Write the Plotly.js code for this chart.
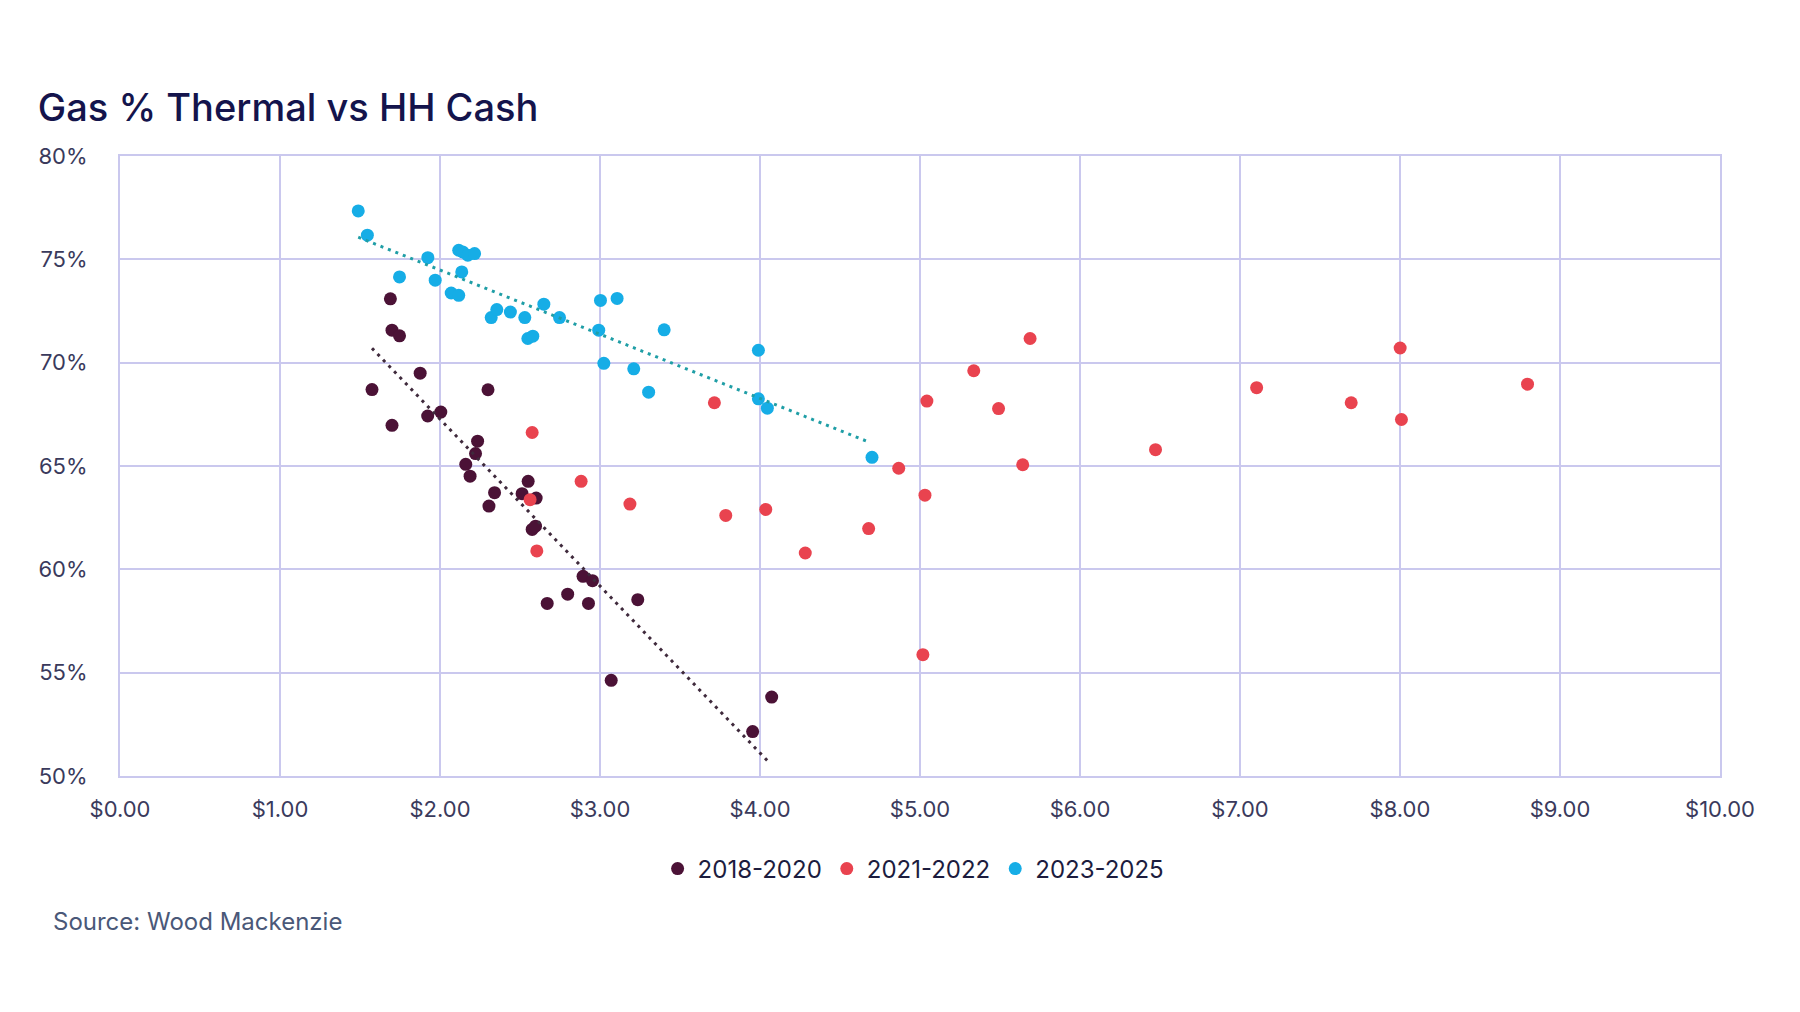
<!DOCTYPE html>
<html>
<head>
<meta charset="utf-8">
<script src="https://cdn.plot.ly/plotly-3.0.1.min.js"></script>
<style>html,body{margin:0;padding:0;background:#fff;}#chart{width:1800px;height:1012px;}</style>
</head>
<body>
<div id="chart"></div>
<script>
// 2018-2020
const priceA = [1.69, 1.70, 1.747, 1.575, 1.876, 1.70, 1.923, 2.005, 2.30, 2.235, 2.222, 2.161, 2.188, 2.551, 2.341, 2.513, 2.601, 2.306, 2.576, 2.597, 2.894, 2.953, 2.798, 2.670, 2.928, 3.236, 3.070, 4.073, 3.954];
const shareA = [73.09, 71.57, 71.30, 68.70, 69.49, 66.97, 67.42, 67.61, 68.69, 66.20, 65.60, 65.08, 64.51, 64.26, 63.71, 63.66, 63.45, 63.06, 61.93, 62.09, 59.66, 59.45, 58.80, 58.35, 58.35, 58.53, 54.63, 53.82, 52.15];
// 2021-2022
const priceB = [2.576, 2.882, 2.563, 2.605, 3.187, 3.715, 3.786, 4.036, 4.283, 4.679, 4.867, 5.031, 5.043, 5.018, 5.336, 5.491, 5.642, 5.688, 6.472, 7.104, 7.695, 8.001, 8.009, 8.797];
const shareB = [66.62, 64.26, 63.37, 60.89, 63.16, 68.06, 62.61, 62.90, 60.79, 61.97, 64.89, 63.59, 68.14, 55.87, 69.61, 67.78, 65.06, 71.17, 65.79, 68.79, 68.06, 70.71, 67.25, 68.96];
// 2023-2025
const priceC = [1.489, 1.546, 1.924, 1.747, 1.970, 2.117, 2.142, 2.174, 2.216, 2.136, 2.070, 2.117, 2.320, 2.355, 2.440, 2.530, 2.649, 2.747, 2.549, 2.580, 3.003, 3.107, 2.992, 3.024, 3.211, 3.401, 3.304, 3.990, 3.990, 4.046, 4.700];
const shareC = [77.34, 76.17, 75.08, 74.15, 73.99, 75.44, 75.36, 75.20, 75.28, 74.39, 73.37, 73.26, 72.18, 72.57, 72.45, 72.18, 72.83, 72.18, 71.17, 71.28, 73.01, 73.11, 71.57, 69.97, 69.70, 71.59, 68.57, 70.60, 68.25, 67.80, 65.42];
// trend lines (endpoints)
const trendAX = [1.575, 4.054];
const trendAY = [70.70, 50.68];
const trendCX = [1.489, 4.683];
const trendCY = [76.07, 66.15];

const seriesNames = ['2018-2020', '2021-2022', '2023-2025'];
const xTicks = [0,1,2,3,4,5,6,7,8,9,10];
const xTickLabels = ['$0.00','$1.00','$2.00','$3.00','$4.00','$5.00','$6.00','$7.00','$8.00','$9.00','$10.00'];
const yTicks = [50,55,60,65,70,75,80];
const yTickLabels = ['50%','55%','60%','65%','70%','75%','80%'];

const colA = '#4b1236', colB = '#e9434f', colC = '#16ade6';
const fontFam = 'Inter, "Noto Sans", sans-serif';

const traces = [
  {x: priceA, y: shareA, name: seriesNames[0], type: 'scatter', mode: 'markers', marker: {color: colA, size: 13}},
  {x: priceB, y: shareB, name: seriesNames[1], type: 'scatter', mode: 'markers', marker: {color: colB, size: 13}},
  {x: priceC, y: shareC, name: seriesNames[2], type: 'scatter', mode: 'markers', marker: {color: colC, size: 13}},
  {x: trendAX, y: trendAY, type: 'scatter', mode: 'lines', showlegend: false, hoverinfo: 'skip', line: {color: '#3f2a3c', width: 3, dash: '3px,5px'}},
  {x: trendCX, y: trendCY, type: 'scatter', mode: 'lines', showlegend: false, hoverinfo: 'skip', line: {color: '#1f9ea6', width: 3, dash: '3px,5px'}}
];

const gridCol = '#cac8ee';
const layout = {
  width: 1800, height: 1012,
  paper_bgcolor: '#ffffff', plot_bgcolor: '#ffffff',
  margin: {l: 120, r: 80, t: 156, b: 236},
  font: {family: fontFam, color: '#3a3a5c', size: 22},
  title: {text: 'Gas % Thermal vs HH Cash', font: {family: fontFam, size: 38, color: '#14144c', weight: 500},
          xref: 'container', yref: 'container', x: 0.021, xanchor: 'left', y: 1 - 94/1012, yanchor: 'top'},
  xaxis: {range: [0, 10], tickmode: 'array', tickvals: xTicks, ticktext: xTickLabels, showgrid: true, gridcolor: gridCol, gridwidth: 1.5,
          zeroline: false, showline: true, mirror: true, linecolor: gridCol, linewidth: 2, ticks: '', ticklabelstandoff: 13,
          tickfont: {size: 22, color: '#3a3a5c'}},
  yaxis: {range: [50, 80], tickmode: 'array', tickvals: yTicks, ticktext: yTickLabels, showgrid: true, gridcolor: gridCol, gridwidth: 1.5,
          zeroline: false, showline: true, mirror: true, linecolor: gridCol, linewidth: 2, ticks: '', ticklabelstandoff: 26,
          tickfont: {size: 22, color: '#3a3a5c'}},
  showlegend: true,
  legend: {orientation: 'h', x: 0.496, xanchor: 'center', y: -0.15, yanchor: 'middle', font: {size: 24, color: '#1c1c3e'},
           itemwidth: 30, traceorder: 'normal'},
  annotations: [{text: 'Source: Wood Mackenzie', xref: 'paper', yref: 'paper', x: -0.043, y: -0.235, xanchor: 'left', yanchor: 'middle',
                 showarrow: false, font: {size: 24, color: '#4a5878', family: fontFam}}]
};

Plotly.newPlot('chart', traces, layout, {displayModeBar: false, responsive: false});
</script>
</body>
</html>
